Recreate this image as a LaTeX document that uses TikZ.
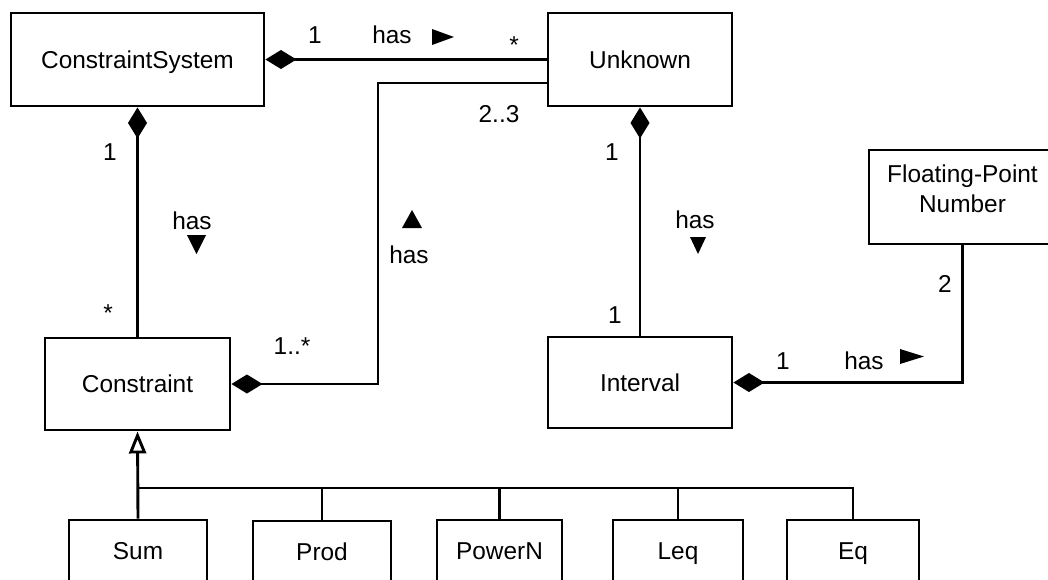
\documentclass[tikz,border=0pt]{standalone}
\usepackage{fontspec}
\setmainfont{Liberation Sans}
\usetikzlibrary{arrows.meta,calc}
\begin{document}
\begin{tikzpicture}[x=1pt,y=-1pt,
  every node/.style={font=\fontsize{24.4}{30}\selectfont},
  box/.style={draw, line width=2.9pt, inner sep=0pt, text height=17pt, text depth=0pt, minimum height=93pt},
  conn/.style={line width=2.9pt},
  comp/.style={conn, {Diamond[length=31pt,width=19pt]}-},
  gen/.style={conn, -{Triangle[open,length=22pt,width=17pt]}},
  lbl/.style={inner sep=0pt, anchor=base}]
\useasboundingbox (0,0) rectangle (1048,579);
% classes
\node[box, minimum width=253pt] (cs) at (137.5,59.5) {ConstraintSystem};
\node[box, minimum width=184pt] (unk) at (640,59.5) {Unknown};
\node[box, minimum width=187pt, minimum height=94pt] (fp) at (962.5,197) {};
\node[align=center, inner sep=0pt] (fptext) at ([yshift=8.5pt]fp.center) {Floating-Point\\Number};
\node[box, minimum width=185pt, minimum height=92pt] (con) at (137.5,384) {Constraint};
\node[box, minimum width=184pt, minimum height=91pt] (intv) at (640,382.5) {Interval};
\node[box, minimum width=138pt, minimum height=62pt] (sum) at (138,551) {Sum};
\node[box, minimum width=138pt, minimum height=62pt] (prod) at (322,552) {Prod};
\node[box, minimum width=125pt, minimum height=62pt] (pow) at (499.5,551) {PowerN};
\node[box, minimum width=130pt, minimum height=62pt] (leq) at (678,551) {Leq};
\node[box, minimum width=132pt, minimum height=62pt] (eq) at (853,551) {Eq};
% connectors
\draw[comp] (cs.east) -- (unk.west |- cs.east);
\coordinate (bend) at (378,83);
\draw[comp] (con.east) -| (bend) -- (unk.west |- bend);
\draw[comp] (cs.south) -- (con.north);
\draw[comp] (unk.south) -- (intv.north);
\draw[comp] (intv.east) -| (fp.south);
\coordinate (junc) at (138,488);
\draw[gen] (sum.north) -- (con.south);
\draw[conn] (prod.north) |- (junc);
\draw[conn] (pow.north) |- (junc);
\draw[conn] (leq.north) |- (junc);
\draw[conn] (eq.north) |- (junc);
% labels
\node[lbl] (m1) at (315,43) {1};
\node[lbl] (h1) at (392,43) {has};
\fill (432,29) -- (454,37) -- (432,45) -- cycle;
\node[lbl] (s1) at (514,53) {*};
\node[lbl] (m23) at (499,122) {2..3};
\node[lbl] (m2) at (110,160) {1};
\node[lbl] (h2) at (192,229) {has};
\fill (187,235) -- (206,235) -- (196.5,254) -- cycle;
\node[lbl] (s2) at (108,321) {*};
\fill (402,228) -- (422,228) -- (412,210) -- cycle;
\node[lbl] (h3) at (409,263) {has};
\node[lbl] (m3) at (292,354) {1..*};
\node[lbl] (m4) at (612,160) {1};
\node[lbl] (h4) at (695,228) {has};
\fill (690,237) -- (706,237) -- (698,254) -- cycle;
\node[lbl] (m5) at (615,323) {1};
\node[lbl] (m6) at (783,369) {1};
\node[lbl] (h5) at (864,369) {has};
\fill (900,349) -- (924,356.5) -- (900,364) -- cycle;
\node[lbl] (m7) at (945,292) {2};
\end{tikzpicture}
\end{document}
